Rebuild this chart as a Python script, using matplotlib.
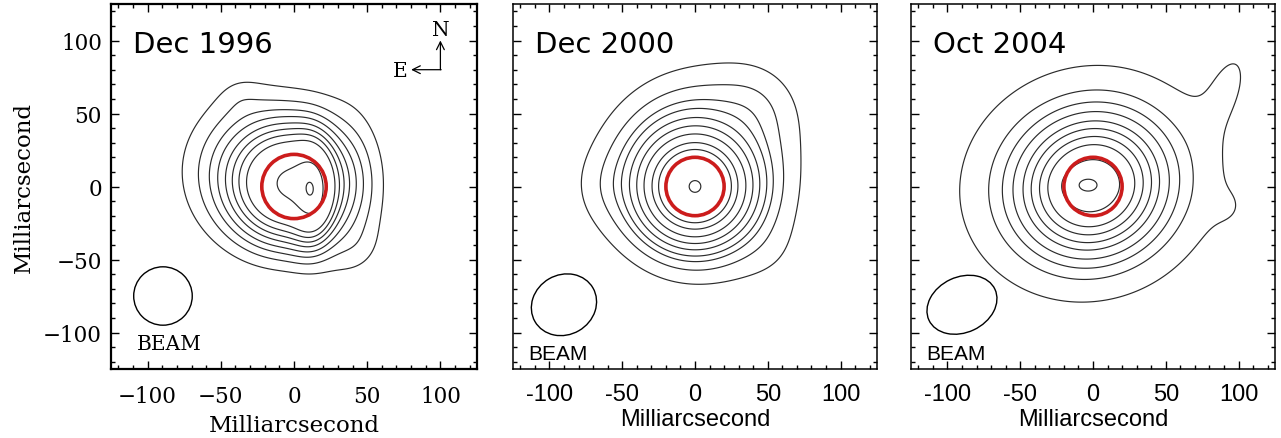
import numpy as np
import matplotlib.pyplot as plt
from matplotlib.patches import Ellipse, Circle
from matplotlib.ticker import MultipleLocator

# ---- data ----
epochs = ["Dec 1996", "Dec 2000", "Oct 2004"]

# brightness components per epoch: flux, x, y, a, b (mas), pa (deg), k (profile shape)
c96_amp = [0.6, 0.3, 0.5, 0.025, 0.003, 0.003, 0.0085]
c96_x = [12, 10, -4, -24, 42, -36, 38]
c96_y = [-3, 0, 2, 12, -40, 60, 2]
c96_a = [8, 10, 24, 34, 15, 12, 16]
c96_b = [16, 20, 24, 34, 15, 12, 38]
c96_pa = [0, 0, 0, 0, 0, 0, 0]
c96_k = [2.5, 3.0, 3.0, 2.0, 1.5, 1.5, 1.5]

c00_amp = [1.0, 0.02, 0.001, 0.0018, 0.0006]
c00_x = [0, 0, -55, 38, 48]
c00_y = [0, 8, 0, 52, -42]
c00_a = [14, 30, 20, 22, 22]
c00_b = [14, 31, 20, 22, 22]
c00_pa = [0, 0, 0, 0, 0]
c00_k = [2.2, 2.0, 1.5, 1.5, 1.5]

c04_amp = [0.5, 0.5, 0.02, 0.0042, 0.002]
c04_x = [-4, -1, -3, 93, 92]
c04_y = [1, 0.5, 2.5, 70, -14]
c04_a = [8, 26, 50, 18, 8]
c04_b = [5, 24, 44, 8, 8]
c04_pa = [0, 25, 15, 70, 0]
c04_k = [2.0, 2.8, 1.5, 1.0, 1.0]

lev96_x = [8.5, -11.5, -32.4, -37.4, -41.9, -46.5, -51.7, -57.3, -64.6, -75.5]
lev96_y = [-3, 2.5, 3.7, 0, 0, 0, 0, 0, 0, 0]
lev00_x = [-4, -20, -25, -29.5, -35, -40, -45, -50.5, -56, -65, -78]
lev00_y = [0, 0, 0, 0, 0, 0, 0, 0, 0, 0, 0]
lev04_x = [-9.5, -21.5, -31, -36.7, -42.4, -48, -54.9, -62.2, -71.6, -91.5]
lev04_y = [1, 0, 0, 0, 0, 0, 0, 0, 0, 0]

# red circle radius, beam (x, y, major, minor, angle)
star_r = [22, 20, 20]
beam_x = [-89.5, -90, -90]
beam_y = [-75, -81, -81]
beam_w = [40, 46, 50]
beam_h = [40, 41, 38]
beam_ang = [0, 30, 25]

tick_vals = [-100, -50, 0, 50, 100]
tick_lab_serif = ["\u2212100", "\u221250", "0", "50", "100"]
tick_lab_sans = ["-100", "-50", "0", "50", "100"]


def model(x, y, amp, xc, yc, a, b, pa, k):
    z = np.zeros_like(x, dtype=float)
    for A, x0, y0, sa, sb, p, kk in zip(amp, xc, yc, a, b, pa, k):
        t = np.radians(p)
        u = (x - x0) * np.cos(t) + (y - y0) * np.sin(t)
        v = -(x - x0) * np.sin(t) + (y - y0) * np.cos(t)
        rho2 = (u / sa) ** 2 + (v / sb) ** 2
        z = z + A * np.exp(-kk * (np.sqrt(1 + rho2) - 1))
    return z


comps = [
    (c96_amp, c96_x, c96_y, c96_a, c96_b, c96_pa, c96_k),
    (c00_amp, c00_x, c00_y, c00_a, c00_b, c00_pa, c00_k),
    (c04_amp, c04_x, c04_y, c04_a, c04_b, c04_pa, c04_k),
]
lev_pts = [(lev96_x, lev96_y), (lev00_x, lev00_y), (lev04_x, lev04_y)]

g = np.linspace(-125, 125, 501)
X, Y = np.meshgrid(g, g)

fig = plt.figure(figsize=(12.81, 4.39), dpi=100)
lefts = [111 / 1281, 513 / 1281, 911 / 1281]
widths = [366 / 1281, 364 / 1281, 364 / 1281]

for i in range(3):
    serif = i == 0
    fam = "DejaVu Serif" if serif else "Liberation Sans"
    ax = fig.add_axes([lefts[i], 69 / 439, widths[i], 365 / 439])

    Z = model(X, Y, *comps[i])
    lx, ly = lev_pts[i]
    lv = np.unique(model(np.array(lx, float), np.array(ly, float), *comps[i]))
    ax.contour(X, Y, Z, levels=lv, colors="#2b2b2b", linewidths=0.85)

    ax.add_patch(Circle((0, 0), star_r[i], fill=False, ec="#cc1c1c", lw=2.6, zorder=5))
    ax.add_patch(Ellipse((beam_x[i], beam_y[i]), beam_w[i], beam_h[i], angle=beam_ang[i],
                         fill=False, ec="black", lw=1.0))

    ax.set_xlim(-125, 125)
    ax.set_ylim(-125, 125)
    ax.xaxis.set_minor_locator(MultipleLocator(10))
    ax.yaxis.set_minor_locator(MultipleLocator(10))
    ax.set_xticks(tick_vals)
    ax.set_yticks(tick_vals)
    ax.tick_params(which="both", direction="in", top=True, right=True, width=1.0)
    ax.tick_params(which="major", length=5.5)
    ax.tick_params(which="minor", length=3)
    for s in ax.spines.values():
        s.set_linewidth(1.6 if serif else 1.1)

    ax.text(-110, 92, epochs[i], fontsize=21, family="DejaVu Sans", va="baseline")

    if serif:
        ax.set_xticklabels(tick_lab_serif, family=fam, fontsize=15.5)
        ax.set_yticklabels(tick_lab_serif, family=fam, fontsize=15.5)
        ax.tick_params(axis="x", pad=11.5)
        ax.tick_params(axis="y", pad=6.5)
        ax.set_xlabel("Milliarcsecond", family=fam, fontsize=16.5, labelpad=5)
        ax.set_ylabel("Milliarcsecond", family=fam, fontsize=16.5, labelpad=6)
        ax.text(-107, -111.5, "BEAM", family=fam, fontsize=14.5, va="baseline")
        # orientation arrows
        ax.annotate("", xy=(100, 100), xytext=(100, 80),
                    arrowprops=dict(arrowstyle="->", lw=0.9, mutation_scale=14, shrinkA=0, shrinkB=0))
        ax.annotate("", xy=(80, 80), xytext=(100.5, 80),
                    arrowprops=dict(arrowstyle="->", lw=0.9, mutation_scale=14, shrinkA=0, shrinkB=0))
        ax.text(100.5, 107.5, "N", family=fam, fontsize=14.5, ha="center", va="center")
        ax.text(72.6, 79.3, "E", family=fam, fontsize=14.5, ha="center", va="center")
    else:
        ax.set_xticklabels(tick_lab_sans, family=fam, fontsize=17)
        ax.set_yticklabels([])
        ax.tick_params(axis="x", pad=10)
        ax.set_xlabel("Milliarcsecond", family=fam, fontsize=17, labelpad=2)
        ax.text(-114.5, -118, "BEAM", family=fam, fontsize=15, va="baseline")

fig.savefig("out.png", dpi=100)
